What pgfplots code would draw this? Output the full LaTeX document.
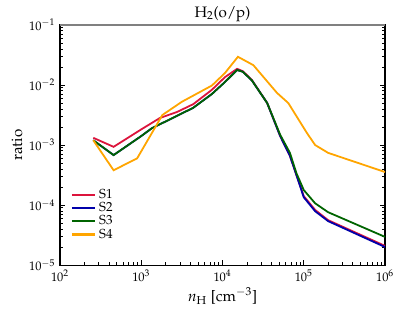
\documentclass[border=0pt]{standalone}
\usepackage[T1]{fontenc}
\usepackage{mathpazo}
\usepackage{pgfplots}
\pgfplotsset{compat=1.18}
\usetikzlibrary{calc}
\definecolor{cS1}{RGB}{220,20,60}
\definecolor{cS2}{RGB}{0,0,170}
\definecolor{cS3}{RGB}{0,100,0}
\definecolor{cS4}{RGB}{255,165,0}
\begin{document}
\begin{tikzpicture}
\begin{axis}[
  scale only axis,
  width=235.8pt, height=174.2pt,
  xmode=log, ymode=log,
  xmin=1e2, xmax=1e6, ymin=1e-5, ymax=1e-1,
  xtick={1e2,1e3,1e4,1e5,1e6},
  ytick={1e-5,1e-4,1e-3,1e-2,1e-1},
  tick align=inside,
  xtick pos=lower, ytick pos=both,
  major tick length=4pt, minor tick length=2pt,
  tick style={black, line width=0.5pt},
  axis line style={line width=0.8pt, black},
  ticklabel style={font=\fontsize{9}{10}\selectfont},
  xlabel={$n_{\mathrm{H}}$ [cm$^{-3}$]},
  ylabel={ratio},
  label style={font=\fontsize{11}{12}\selectfont},
  title={H$_2$(o/p)},
  title style={font=\fontsize{11}{12}\selectfont, yshift=-7pt},
  xlabel style={yshift=2pt},
  ylabel style={yshift=-2pt},
  legend style={draw=none, fill=none, at={(0.02,0.08)}, anchor=south west,
    font=\fontsize{9.5}{10}\selectfont, row sep=-2.5pt},
  legend cell align=left,
  legend image post style={line width=1.5pt},
]
\addplot[cS1, line width=1.3pt] coordinates {
(257,1.318e-3) (457,9.33e-4) (1000,1.82e-3) (1698,2.82e-3) (2754,3.55e-3)
(4365,4.79e-3) (7413,8.32e-3) (10715,1.35e-2) (15136,1.86e-2) (17783,1.70e-2)
(22909,1.22e-2) (35481,5.01e-3) (51286,1.41e-3) (67608,6.61e-4) (81283,3.16e-4)
(100000,1.41e-4) (138038,8.3e-5) (199526,5.6e-5) (1000000,2.09e-5)};
\addlegendentry{S1}
\addplot[cS2, line width=1.3pt] coordinates {
(257,1.2e-3) (457,6.8e-4) (1000,1.41e-3) (1349,1.9e-3) (4365,4.17e-3)
(7413,7.08e-3) (10715,1.12e-2) (15136,1.78e-2) (17783,1.66e-2)
(22909,1.20e-2) (35481,5.01e-3) (51286,1.41e-3) (67608,6.61e-4) (81283,3.16e-4)
(100000,1.35e-4) (138038,7.9e-5) (199526,5.4e-5) (1000000,2.0e-5)};
\addlegendentry{S2}
\addplot[cS3, line width=1.3pt] coordinates {
(257,1.2e-3) (457,6.8e-4) (1000,1.41e-3) (1349,1.9e-3) (4365,4.17e-3)
(7413,7.08e-3) (10715,1.12e-2) (15136,1.78e-2) (17783,1.66e-2)
(22909,1.20e-2) (35481,5.01e-3) (51286,1.48e-3) (67608,7.4e-4) (81283,3.39e-4)
(100000,1.78e-4) (138038,1.07e-4) (199526,7.6e-5) (1000000,2.95e-5)};
\addlegendentry{S3}
\addplot[cS4, line width=1.3pt] coordinates {
(257,1.2e-3) (457,3.8e-4) (891,6.0e-4) (1820,3.16e-3) (3162,5.25e-3)
(7413,9.8e-3) (10715,1.58e-2) (15488,2.95e-2) (23988,2.14e-2) (46774,7.4e-3)
(64565,5.0e-3) (109648,1.58e-3) (138038,1.0e-3) (199526,7.4e-4) (1000000,3.55e-4)};
\addlegendentry{S4}
\end{axis}
\draw[gray, line width=0.8pt] (current axis.north west) -- (current axis.north east);
\pgfresetboundingbox
\path ($(current axis.south west)+(-43.5pt,-31.9pt)$) rectangle ($(current axis.north east)+(8.7pt,18.1pt)$);
\end{tikzpicture}
\end{document}
